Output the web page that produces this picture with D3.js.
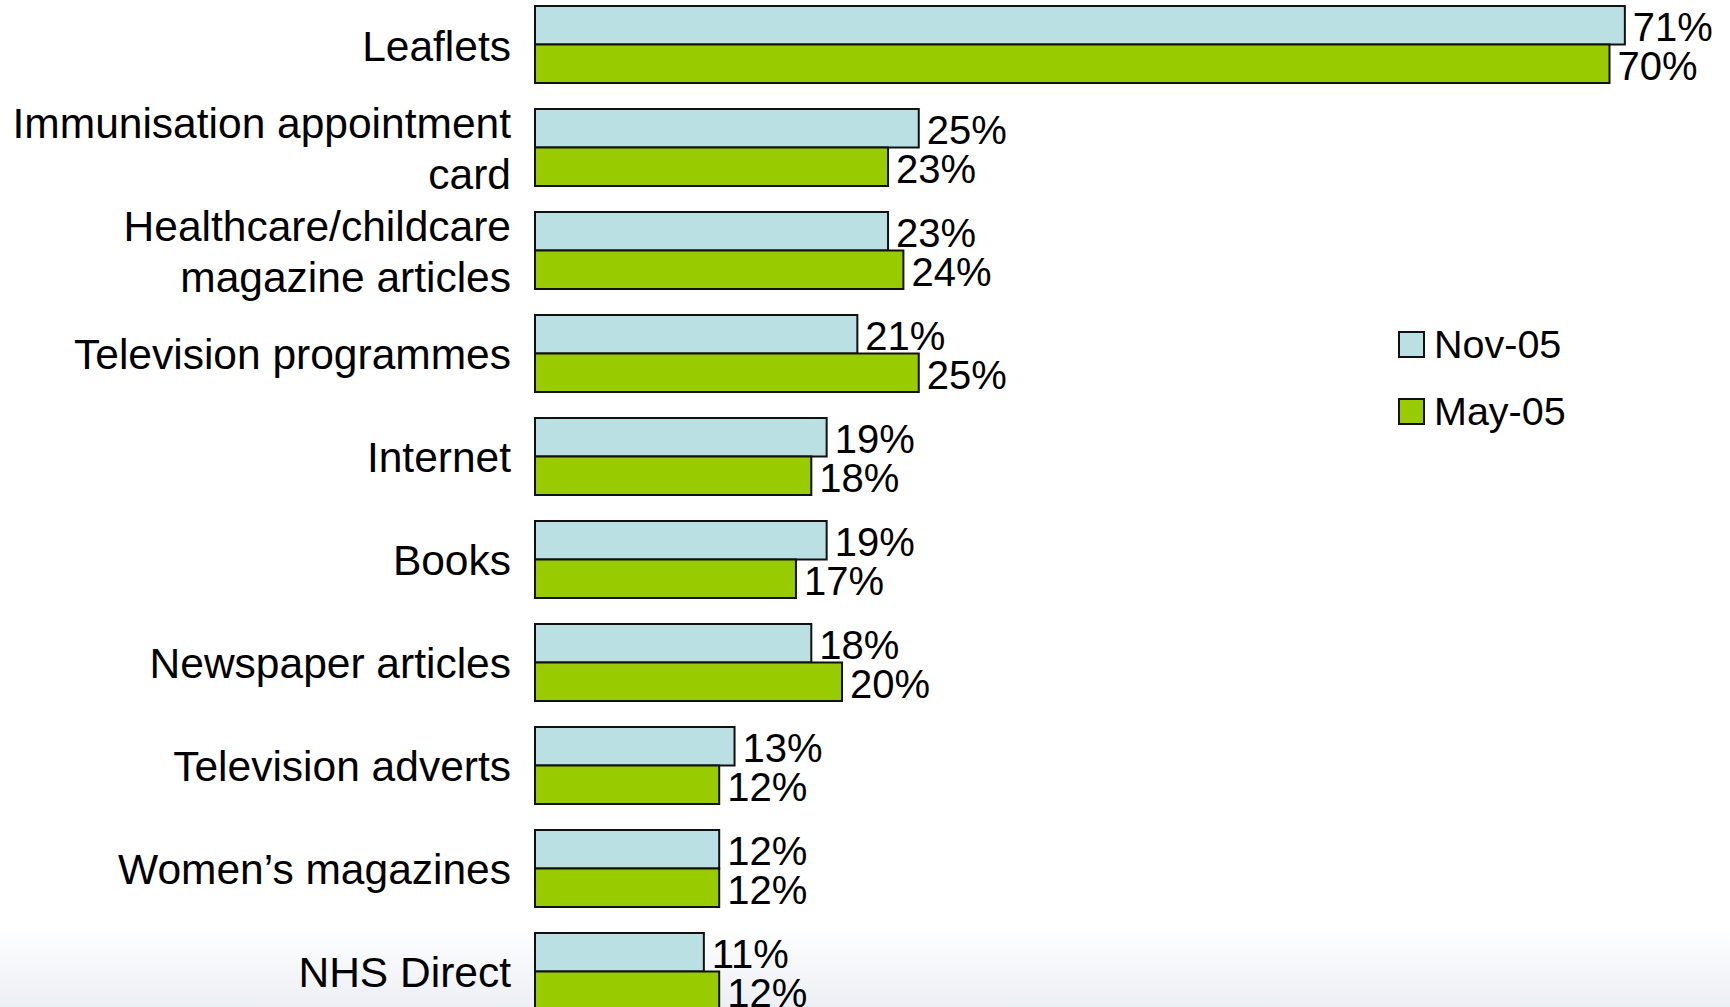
<!DOCTYPE html>
<html>
<head>
<meta charset="utf-8">
<script src="https://cdn.jsdelivr.net/npm/d3@7"></script>
<style>
  html, body { margin: 0; padding: 0; background: #ffffff; }
  svg { display: block; }
  text { font-family: "Liberation Sans", Arial, sans-serif; fill: #000; }
</style>
</head>
<body>
<svg id="chart" width="1730" height="1007"></svg>
<script>
// Sources of information, two survey waves (percent of respondents)
const categories = [
  "Leaflets",
  "Immunisation appointment\ncard",
  "Healthcare/childcare\nmagazine articles",
  "Television programmes",
  "Internet",
  "Books",
  "Newspaper articles",
  "Television adverts",
  "Women\u2019s magazines",
  "NHS Direct"
];
const seriesNames = ["Nov-05", "May-05"];
const nov05 = [71, 25, 23, 21, 19, 19, 18, 13, 12, 11];
const may05 = [70, 23, 24, 25, 18, 17, 20, 12, 12, 12];
const seriesColors = ["#bbe0e3", "#99cc00"];

const W = 1730, H = 1007;
const svg = d3.select("#chart");

// soft footer gradient
const defs = svg.append("defs");
const grad = defs.append("linearGradient")
  .attr("id", "footer").attr("x1", 0).attr("y1", 0).attr("x2", 0).attr("y2", 1);
grad.append("stop").attr("offset", 0).attr("stop-color", "#ffffff");
grad.append("stop").attr("offset", 1).attr("stop-color", "#eceff4");
svg.append("rect").attr("width", W).attr("height", H).attr("fill", "#ffffff");
svg.append("rect").attr("x", 0).attr("y", 925).attr("width", W).attr("height", H - 925)
  .attr("fill", "url(#footer)");

const series = [nov05, may05];
const rows = categories.map((c, i) => ({ cat: c, values: series.map(s => s[i]) }));

const x = d3.scaleLinear().domain([0, 80]).range([535, 535 + 80 * 15.35]);
const y = d3.scaleBand().domain(categories).range([6, 1010])
  .paddingInner(0.2524).paddingOuter(0);
const ySub = d3.scaleBand().domain(seriesNames).range([0, y.bandwidth()]).padding(0);

const groups = svg.append("g").selectAll("g.group")
  .data(rows).join("g")
  .attr("class", "group")
  .attr("transform", d => `translate(0,${y(d.cat)})`);

groups.selectAll("rect.bar")
  .data(d => d.values.map((v, k) => ({ v, k })))
  .join("rect")
  .attr("class", "bar")
  .attr("x", x(0))
  .attr("y", d => ySub(seriesNames[d.k]))
  .attr("width", d => x(d.v) - x(0))
  .attr("height", ySub.bandwidth())
  .attr("fill", d => seriesColors[d.k])
  .attr("stroke", "#111")
  .attr("stroke-width", 2);

groups.selectAll("text.val")
  .data(d => d.values.map((v, k) => ({ v, k })))
  .join("text")
  .attr("class", "val")
  .attr("x", d => x(d.v) + 8)
  .attr("y", d => ySub(seriesNames[d.k]) + ySub.bandwidth() / 2 + 16)
  .attr("font-size", 40)
  .text(d => d.v + "%");

// category labels (right-aligned, possibly two lines)
const lineH = 51;
groups.append("text")
  .attr("class", "cat")
  .attr("text-anchor", "end")
  .attr("font-size", 42.5)
  .each(function(d) {
    const lines = d.cat.split("\n");
    const t = d3.select(this);
    lines.forEach((ln, i) => {
      t.append("tspan")
        .attr("x", 511)
        .attr("y", y.bandwidth() / 2 + 16 + (i - (lines.length - 1) / 2) * lineH)
        .text(ln);
    });
  });

// legend
const legend = svg.append("g").attr("transform", "translate(1399,332)");
const li = legend.selectAll("g").data(seriesNames).join("g")
  .attr("transform", (d, i) => `translate(0,${i * 67})`);
li.append("rect").attr("width", 25).attr("height", 25)
  .attr("fill", (d, i) => seriesColors[i]).attr("stroke", "#111").attr("stroke-width", 2);
li.append("text").attr("x", 35).attr("y", 26).attr("font-size", 39.5).text(d => d);
</script>
</body>
</html>
